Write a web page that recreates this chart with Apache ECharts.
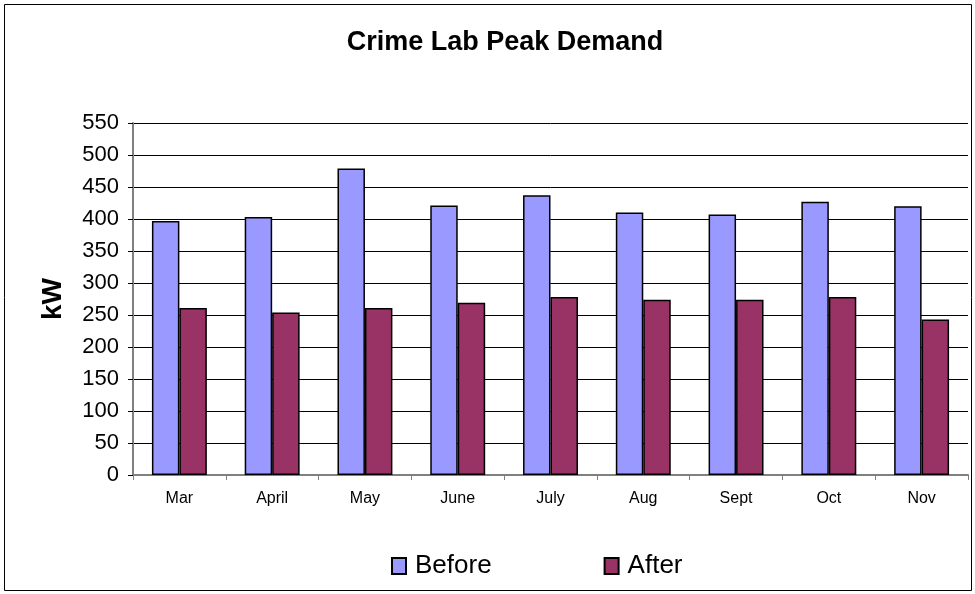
<!DOCTYPE html>
<html><head><meta charset="utf-8">
<script src="https://cdn.jsdelivr.net/npm/echarts@6/dist/echarts.min.js"></script>
<style>html,body{margin:0;padding:0;background:#fff}#c{width:975px;height:594px}</style>
</head><body><div id="c"></div>
<script>
const categories = ['Mar','April','May','June','July','Aug','Sept','Oct','Nov'];
const before = [397, 403, 479, 421, 437, 410, 407, 427, 420];
const after = [261, 254, 261, 269, 278, 274, 274, 278, 243];
const yTicks = [0,50,100,150,200,250,300,350,400,450,500,550];

const chart = echarts.init(document.getElementById('c'), null, {renderer:'canvas'});
chart.setOption({
  animation:false,
  backgroundColor:'#fff',
  graphic:[{type:'rect', shape:{x:4.5,y:4.5,width:967,height:586}, style:{fill:'none',stroke:'#000',lineWidth:1}, silent:true, z:-1}],
  title:{text:'Crime Lab Peak Demand', left:500, top:24, textAlign:'center',
    textStyle:{fontFamily:'Liberation Sans', fontWeight:'bold', fontSize:27, color:'#000'}},
  grid:{left:133, right:7, top:123, bottom:119, containLabel:false},
  legend:{data:['Before','After'], left:386, top:548, itemWidth:14, itemHeight:16, itemGap:112,
    textStyle:{fontFamily:'Liberation Sans', fontSize:26, color:'#000', padding:[0,0,0,4]},
    icon:'rect', selectedMode:false},
  xAxis:{type:'category', data:categories,
    axisLine:{lineStyle:{color:'#808080', width:2}},
    axisTick:{show:true, length:5, lineStyle:{color:'#808080'}},
    axisLabel:{fontFamily:'Liberation Sans', fontSize:16, color:'#000', margin:16},
    splitLine:{show:false}},
  yAxis:{type:'value', min:0, max:550, interval:50,
    name:'kW', nameLocation:'middle', nameGap:66,
    nameTextStyle:{fontFamily:'Liberation Sans', fontWeight:'bold', fontSize:28, color:'#000'},
    axisLine:{show:true, lineStyle:{color:'#808080', width:2}},
    axisTick:{show:true, length:5, lineStyle:{color:'#000'}},
    axisLabel:{fontFamily:'Liberation Sans', fontSize:22, color:'#000', margin:14,
      formatter:v => yTicks.includes(v) ? String(v) : ''},
    splitLine:{show:true, lineStyle:{color:'#000', width:1}}},
  series:[
    {name:'Before', type:'bar', data:before, barWidth:'29.6%', barGap:'0%',
      itemStyle:{color:'#9999FF', borderColor:'#000', borderWidth:1.5}},
    {name:'After', type:'bar', data:after, barWidth:'29.6%',
      itemStyle:{color:'#993366', borderColor:'#000', borderWidth:1.5}}
  ]
});
</script></body></html>
